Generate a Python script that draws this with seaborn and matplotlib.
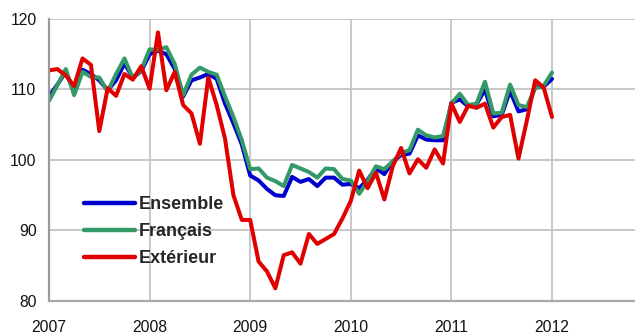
import numpy as np
import pandas as pd
import matplotlib
matplotlib.use("Agg")
import matplotlib.pyplot as plt
import seaborn as sns

# Monthly index values, January 2007 to January 2012
ensemble = [109.0, 110.7, 112.5, 109.7, 112.8, 112.2, 111.3, 109.9, 111.3, 113.7, 111.7, 112.6,
            115.0, 115.5, 115.0, 112.9, 109.0, 111.3, 111.7, 112.2, 111.5, 108.0, 105.2, 102.2,
            97.8, 97.1, 95.9, 95.0, 94.9, 97.6, 96.9, 97.3, 96.3, 97.5, 97.5, 96.5,
            96.6, 96.0, 97.2, 98.8, 98.0, 99.8, 100.7, 100.9, 103.5, 102.9, 102.8, 102.8,
            108.1, 108.6, 107.6, 107.9, 110.0, 106.2, 106.4, 109.8, 106.9, 107.2, 110.4, 110.4,
            111.5]
francais = [108.4, 110.6, 112.9, 109.2, 112.5, 111.8, 111.7, 109.7, 112.2, 114.4, 111.6, 112.8,
            115.7, 115.6, 116.0, 113.6, 109.2, 112.1, 113.1, 112.5, 112.1, 109.0, 106.1, 102.8,
            98.7, 98.8, 97.5, 97.0, 96.3, 99.3, 98.8, 98.3, 97.5, 98.8, 98.7, 97.3,
            97.1, 95.2, 97.0, 99.1, 98.7, 99.8, 101.0, 101.4, 104.3, 103.5, 103.2, 103.4,
            108.0, 109.4, 107.8, 108.0, 111.1, 106.6, 106.7, 110.7, 107.8, 107.5, 110.2, 110.5,
            112.4]
exterieur = [112.7, 112.9, 112.0, 110.5, 114.4, 113.5, 104.1, 110.2, 109.1, 112.2, 111.4, 113.3,
             110.1, 118.1, 109.9, 112.5, 107.8, 106.6, 102.3, 111.7, 107.8, 103.0, 95.0, 91.5,
             91.5, 85.6, 84.2, 81.8, 86.5, 86.9, 85.3, 89.5, 88.1, 88.8, 89.5, 91.7,
             94.2, 98.5, 96.0, 98.2, 94.4, 99.1, 101.7, 98.1, 100.1, 98.9, 101.5, 99.5,
             108.0, 105.4, 107.7, 107.4, 108.0, 104.6, 106.1, 106.4, 100.2, 105.6, 111.3, 110.3,
             106.1]

series_names = ["Ensemble", "Français", "Extérieur"]
series_colors = ["#0000cc", "#339966", "#e00000"]
year_ticks = [2007, 2008, 2009, 2010, 2011, 2012]
y_ticks = [80, 90, 100, 110, 120]

t = 2007 + np.arange(len(ensemble)) / 12.0
df = pd.concat([
    pd.DataFrame({"t": t, "value": vals, "serie": name})
    for name, vals in zip(series_names, [ensemble, francais, exterieur])
], ignore_index=True)

sns.set_style("white")
plt.rcParams["font.family"] = ["Liberation Sans", "DejaVu Sans"]

fig = plt.figure(figsize=(6.35, 3.34), dpi=100)
ax = fig.add_axes([49 / 635, 1 - 301 / 334, 1 - 49 / 635, (301 - 19) / 334])

sns.lineplot(data=df, x="t", y="value", hue="serie", hue_order=series_names,
             palette=series_colors, linewidth=2.9, ax=ax, legend=True)

ax.set_xlim(2007, 2012.825)
ax.set_ylim(80, 120)
ax.set_xticks(year_ticks)
ax.set_xticklabels([str(y) for y in year_ticks])
ax.set_yticks(y_ticks)
ax.set_xlabel("")
ax.set_ylabel("")

ax.grid(True, color="#c4c4c4", linewidth=1.3)
ax.set_axisbelow(True)
for side in ["top", "right"]:
    ax.spines[side].set_visible(False)
ax.spines["left"].set_color("#9a9a9a")
ax.spines["left"].set_linewidth(1.6)
ax.spines["bottom"].set_color("#a8a8a8")
ax.spines["bottom"].set_linewidth(1.6)
ax.tick_params(axis="both", which="both", length=3, width=1.2, color="#b0b0b0",
               labelsize=11.3, labelcolor="#111111", direction="out")
ax.tick_params(axis="x", pad=11)
ax.tick_params(axis="y", pad=6)

leg = ax.legend(loc="upper left", bbox_to_anchor=(35 / 586, 1 - 177 / 282),
                frameon=False, handlelength=2.8, handletextpad=0.22,
                labelspacing=0.55, borderpad=0, borderaxespad=0,
                prop={"weight": "bold", "size": 13})
for line in leg.get_lines():
    line.set_linewidth(3.2)

fig.savefig("out.png", dpi=100)
